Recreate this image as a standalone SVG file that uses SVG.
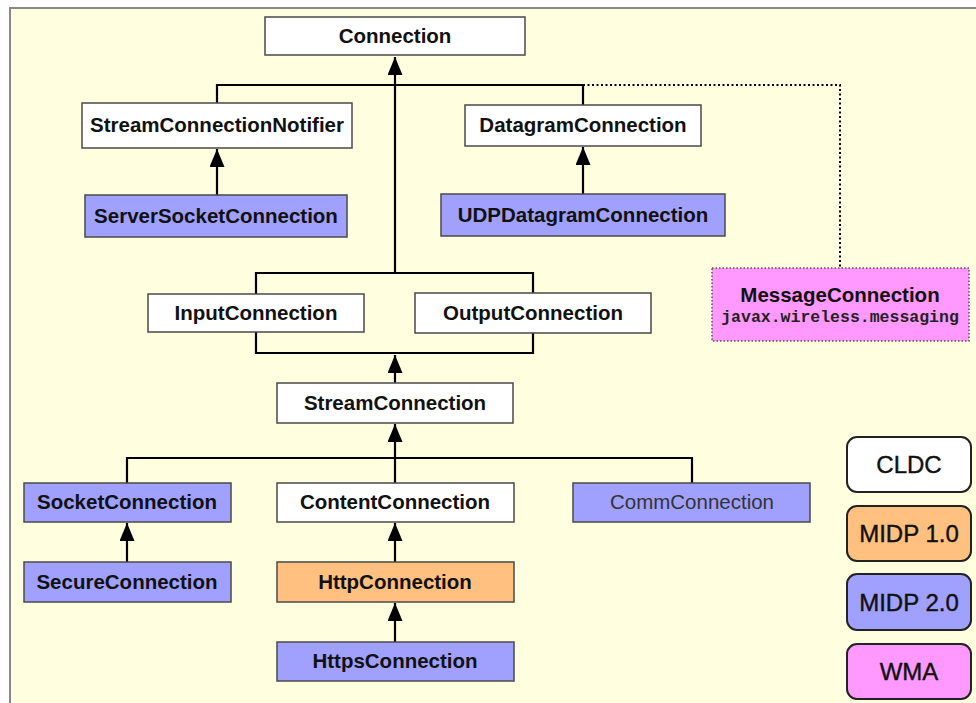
<svg xmlns="http://www.w3.org/2000/svg" width="976" height="703" viewBox="0 0 976 703">
  <style>
    .box { stroke: #4a4a4a; stroke-width: 1.5; }
    .cldc { fill: #ffffff; }
    .midp1 { fill: #ffc080; }
    .midp2 { fill: #a0a0ff; }
    .wma { fill: #ff99ff; }
    .lbl { font-family: "Liberation Sans", Arial, sans-serif; font-size: 20.5px; font-weight: bold; fill: #111; text-anchor: middle; }
    .plain { font-weight: normal; fill: #333; }
    .pkg { font-family: "Liberation Mono", "Courier New", monospace; font-size: 16.5px; font-weight: bold; fill: #222; text-anchor: middle; }
    .wire { fill: none; stroke: #000; stroke-width: 2.2; }
    .dots { fill: none; stroke: #000; stroke-width: 2; stroke-dasharray: 2 2.5; }
    .key { stroke: #222; stroke-width: 2; }
    .keytxt { font-family: "Liberation Sans", Arial, sans-serif; font-size: 24px; fill: #111; stroke: #111; stroke-width: 0.4; text-anchor: middle; }
  </style>
  <defs>
    <marker id="arrow" markerUnits="userSpaceOnUse" markerWidth="19" markerHeight="16" refX="18" refY="7.5" orient="auto">
      <path d="M0,0 L18,7.5 L0,15 z" fill="#000"/>
    </marker>
  </defs>

  <!-- background panel -->
  <rect x="0" y="0" width="976" height="703" fill="#ffffff"/>
  <rect x="10" y="8" width="972" height="702" fill="#fffedf" stroke="#888888" stroke-width="2"/>

  <!-- connectors -->
  <g id="connectors">
    <path class="wire" d="M395,273 V57" marker-end="url(#arrow)"/>
    <path class="wire" d="M217,103 V85 H583 V105"/>
    <path class="dots" d="M583,85 H840 V268"/>
    <path class="wire" d="M217,195 V149" marker-end="url(#arrow)"/>
    <path class="wire" d="M583,194 V147" marker-end="url(#arrow)"/>
    <path class="wire" d="M256,294 V273 H533 V293"/>
    <path class="wire" d="M256,332 V353 H533 V333"/>
    <path class="wire" d="M395,383 V355" marker-end="url(#arrow)"/>
    <path class="wire" d="M395,483 V424" marker-end="url(#arrow)"/>
    <path class="wire" d="M127,483 V458 H692 V483"/>
    <path class="wire" d="M127,562 V523" marker-end="url(#arrow)"/>
    <path class="wire" d="M395,562 V523" marker-end="url(#arrow)"/>
    <path class="wire" d="M395,642 V603" marker-end="url(#arrow)"/>
  </g>

  <!-- nodes -->
  <g id="Connection">
    <rect class="box cldc" x="265" y="17" width="260" height="38"/>
    <text class="lbl" x="395" y="43">Connection</text>
  </g>
  <g id="StreamConnectionNotifier">
    <rect class="box cldc" x="82" y="103" width="270" height="45"/>
    <text class="lbl" x="217" y="132">StreamConnectionNotifier</text>
  </g>
  <g id="DatagramConnection">
    <rect class="box cldc" x="465" y="105" width="236" height="41"/>
    <text class="lbl" x="583" y="132">DatagramConnection</text>
  </g>
  <g id="ServerSocketConnection">
    <rect class="box midp2" x="85" y="195" width="262" height="42"/>
    <text class="lbl" x="216" y="223">ServerSocketConnection</text>
  </g>
  <g id="UDPDatagramConnection">
    <rect class="box midp2" x="441" y="194" width="284" height="42"/>
    <text class="lbl" x="583" y="222">UDPDatagramConnection</text>
  </g>
  <g id="MessageConnection">
    <rect class="wma" x="712" y="268" width="257" height="73" stroke="#555" stroke-width="1.5" stroke-dasharray="1.5 2"/>
    <text class="lbl" x="840" y="302">MessageConnection</text>
    <text class="pkg" x="840" y="322">javax.wireless.messaging</text>
  </g>
  <g id="InputConnection">
    <rect class="box cldc" x="148" y="294" width="216" height="38"/>
    <text class="lbl" x="256" y="320">InputConnection</text>
  </g>
  <g id="OutputConnection">
    <rect class="box cldc" x="415" y="293" width="236" height="40"/>
    <text class="lbl" x="533" y="320">OutputConnection</text>
  </g>
  <g id="StreamConnection">
    <rect class="box cldc" x="277" y="383" width="236" height="40"/>
    <text class="lbl" x="395" y="410">StreamConnection</text>
  </g>
  <g id="SocketConnection">
    <rect class="box midp2" x="24" y="483" width="207" height="39"/>
    <text class="lbl" x="127" y="509">SocketConnection</text>
  </g>
  <g id="ContentConnection">
    <rect class="box cldc" x="277" y="483" width="237" height="39"/>
    <text class="lbl" x="395" y="509">ContentConnection</text>
  </g>
  <g id="CommConnection">
    <rect class="box midp2" x="573" y="483" width="237" height="39"/>
    <text class="lbl plain" x="692" y="509">CommConnection</text>
  </g>
  <g id="SecureConnection">
    <rect class="box midp2" x="24" y="562" width="207" height="40"/>
    <text class="lbl" x="127" y="589">SecureConnection</text>
  </g>
  <g id="HttpConnection">
    <rect class="box midp1" x="277" y="562" width="237" height="40"/>
    <text class="lbl" x="395" y="589">HttpConnection</text>
  </g>
  <g id="HttpsConnection">
    <rect class="box midp2" x="277" y="642" width="237" height="39"/>
    <text class="lbl" x="395" y="668">HttpsConnection</text>
  </g>

  <!-- legend -->
  <g id="legend-CLDC">
    <rect class="key cldc" x="847" y="437" width="124" height="55" rx="10"/>
    <text class="keytxt" x="909" y="473">CLDC</text>
  </g>
  <g id="legend-MIDP1">
    <rect class="key midp1" x="847" y="506" width="124" height="55" rx="10"/>
    <text class="keytxt" x="909" y="542">MIDP 1.0</text>
  </g>
  <g id="legend-MIDP2">
    <rect class="key midp2" x="847" y="574" width="124" height="56" rx="10"/>
    <text class="keytxt" x="909" y="611">MIDP 2.0</text>
  </g>
  <g id="legend-WMA">
    <rect class="key wma" x="847" y="644" width="124" height="55" rx="10"/>
    <text class="keytxt" x="909" y="680">WMA</text>
  </g>
</svg>
